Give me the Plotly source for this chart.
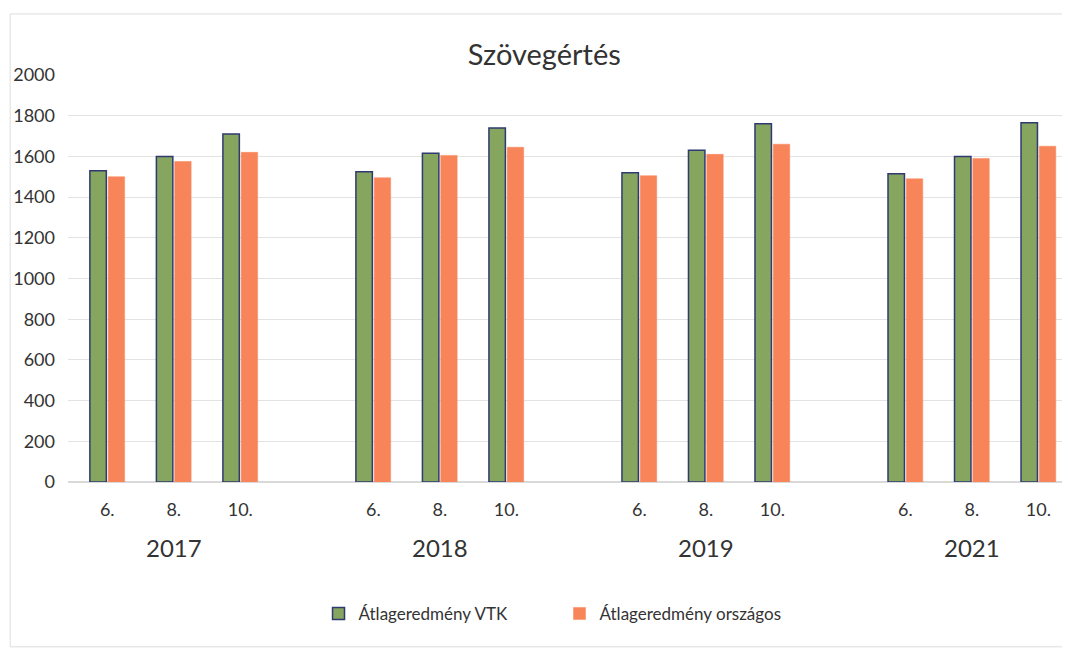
import plotly.graph_objects as go

years = ["2017", "2018", "2019", "2021"]
grades = ["6.", "8.", "10."]
vtk = [1530, 1600, 1710, 1525, 1615, 1740, 1520, 1630, 1760, 1515, 1600, 1765]
orszagos = [1500, 1575, 1620, 1495, 1605, 1645, 1505, 1610, 1660, 1490, 1590, 1650]
y_ticks = list(range(0, 2001, 200))

# positions: three grades per year, an empty slot between years
xpos = []
for yi in range(len(years)):
    for gi in range(len(grades)):
        xpos.append(yi * (len(grades) + 1) + gi)
tick_text = [g for _ in years for g in grades]
year_centers = [yi * (len(grades) + 1) + (len(grades) - 1) / 2 for yi in range(len(years))]

FONT = "Lato, 'Open Sans', sans-serif"

fig = go.Figure()
fig.add_trace(go.Bar(
    x=xpos, y=vtk, name="Átlageredmény VTK",
    marker=dict(color="#86A55E", line=dict(color="#2F3A72", width=1.5)),
))
fig.add_trace(go.Bar(
    x=xpos, y=orszagos, name="Átlageredmény országos",
    marker=dict(color="#F8855A", line=dict(color="#F8855A", width=0.5)),
))

for xc, yr in zip(year_centers, years):
    fig.add_annotation(x=xc, xref="x", y=-0.162, yref="paper", text=yr,
                       showarrow=False, font=dict(size=24, color="#333333", family=FONT),
                       yanchor="middle")

fig.update_layout(
    width=1062, height=642,
    paper_bgcolor="white", plot_bgcolor="white",
    margin=dict(l=60, r=5, t=67, b=168),
    barmode="group", bargap=0.45, bargroupgap=0.1,
    title=dict(text="Szövegértés", x=0.505, xanchor="center", y=0.927, yanchor="middle",
               font=dict(size=29, color="#333333", family=FONT)),
    font=dict(family=FONT, color="#333333"),
    xaxis=dict(tickmode="array", tickvals=xpos, ticktext=tick_text,
               range=[-0.59, 14.4],
               showgrid=False, zeroline=False, showline=False,
               tickfont=dict(size=18, color="#333333"), ticks="", ticklabelstandoff=15),
    yaxis=dict(range=[0, 2000], tickvals=y_ticks, showgrid=True, gridcolor="#E3E3E3",
               gridwidth=1, zeroline=True, zerolinecolor="#D9D9D9",
               tickfont=dict(size=18, color="#333333"), ticks="", ticklabelstandoff=12),
    legend=dict(orientation="h", x=0.493, xanchor="center", y=-0.324, yanchor="middle",
                font=dict(size=17, color="#333333"), itemwidth=30, traceorder="normal",
                entrywidthmode="pixels", entrywidth=196),
    shapes=[dict(type="rect", xref="paper", yref="paper", x0=-0.058, x1=1.003, y0=-0.405, y1=1.15,
                 line=dict(color="#DDDDDD", width=1))],
)

fig.write_html("out.html")
